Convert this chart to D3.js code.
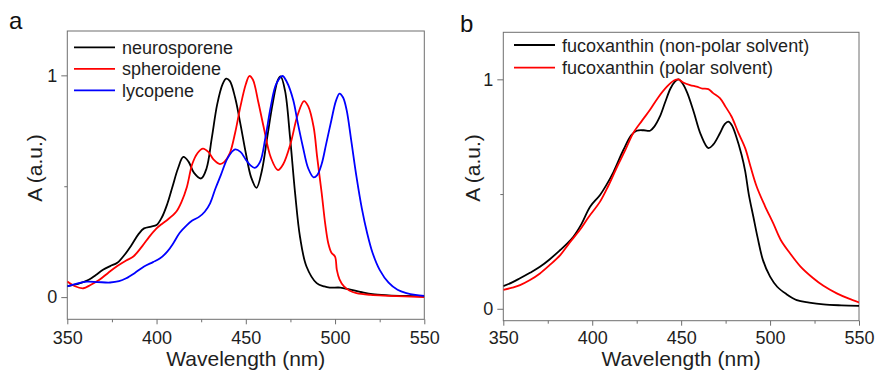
<!DOCTYPE html>
<html>
<head>
<meta charset="utf-8">
<script src="https://cdn.jsdelivr.net/npm/d3@7"></script>
<style>
  html, body { margin: 0; padding: 0; background: #fff; }
  svg { display: block; font-family: "Liberation Sans", Arial, sans-serif; }
</style>
</head>
<body>
<svg id="chart" width="876" height="371"></svg>
<script>
// ---------- Panel a data ----------
const neuroX = [350,356,362,366,370,374,378,382,386,390,393,397,400,403,406,409,412,415,418,421,425,428,431,434,437,439,441,444,447,450,453,456,459,462,465,468,469.5,472,474.8,477.6,480.4,484,489.7,494,497,503,508,515,521,530,540,550];
const neuroY = [0.05,0.06,0.078,0.1,0.123,0.14,0.155,0.19,0.235,0.285,0.31,0.318,0.325,0.36,0.42,0.50,0.58,0.632,0.61,0.56,0.535,0.58,0.72,0.87,0.96,0.985,0.975,0.9,0.78,0.65,0.54,0.493,0.57,0.72,0.87,0.98,0.995,0.93,0.72,0.47,0.27,0.138,0.063,0.048,0.043,0.043,0.035,0.022,0.013,0.008,0.005,0.003];

const spheroX = [350,354,359,363,368,373,378,383,387,392,396,400,403,406,411,414,417,420,423,426,429,432,435.5,438,441,444,447,450,452,454,457,460,464,468,471,475,479,482.6,485,488,490,492.5,494.5,496.2,498,500,501,502.5,505,508,512,520,530,550];
const spheroY = [0.07,0.05,0.04,0.055,0.078,0.11,0.14,0.165,0.183,0.23,0.273,0.31,0.33,0.348,0.385,0.43,0.497,0.6,0.65,0.67,0.655,0.62,0.6,0.61,0.648,0.74,0.86,0.96,0.997,0.98,0.88,0.767,0.63,0.573,0.6,0.69,0.82,0.884,0.86,0.767,0.63,0.47,0.33,0.243,0.2,0.183,0.123,0.08,0.048,0.03,0.018,0.01,0.006,0.0];

const lycoX = [350,355,361,367,374,379,383,388,393,398,402,406,409.4,413,417,420,424,427,430,433,436,440,444,447,450,452.5,455,458,461,464,467,470.5,473,476.6,479,482,485,488,490,492.5,495,498,500.5,502.5,504.5,506.5,509,512,515,518,521,525,530,535,540,545,550];
const lycoY = [0.048,0.06,0.07,0.068,0.066,0.072,0.085,0.11,0.138,0.158,0.175,0.205,0.243,0.29,0.325,0.345,0.363,0.385,0.423,0.49,0.55,0.63,0.666,0.655,0.62,0.595,0.583,0.61,0.72,0.86,0.96,0.997,0.97,0.888,0.79,0.677,0.58,0.54,0.55,0.6,0.69,0.8,0.885,0.918,0.9,0.843,0.71,0.543,0.4,0.288,0.2,0.123,0.065,0.033,0.018,0.01,0.006];

// ---------- Panel b data ----------
const fucoNonPolarX = [350,355,359.4,365,370.6,376,382,386,389.4,394,398.8,404.4,408,412,417.5,422,425,429,432.5,435,438,441,444,446.5,448.5,451,453.5,457,461,465.3,468,471.8,474.5,476.5,478.5,481,484,486,488,490.6,493,496,500,504,509,515,522,530,540,550];
const fucoNonPolarY = [0.099,0.115,0.133,0.157,0.183,0.215,0.256,0.285,0.314,0.37,0.445,0.496,0.54,0.597,0.692,0.757,0.776,0.778,0.776,0.795,0.837,0.9,0.96,0.99,1.0,0.98,0.94,0.86,0.76,0.7,0.715,0.765,0.805,0.816,0.8,0.75,0.67,0.6,0.5,0.401,0.31,0.212,0.14,0.096,0.065,0.038,0.027,0.019,0.015,0.013];

const fucoPolarX = [350,355,359.4,365,370.6,376,382,387,393,398,404.4,409,414,418.5,423,428,432.5,437,442,446,448.4,451.2,455,458.7,462,465.3,468,471.8,475,478.4,482,486,489,492.5,497,501.8,506,511.2,517,524.3,530,537.5,544,550];
const fucoPolarY = [0.082,0.092,0.103,0.125,0.154,0.19,0.234,0.285,0.343,0.4,0.467,0.535,0.619,0.69,0.765,0.82,0.867,0.92,0.968,0.995,1.0,0.986,0.975,0.968,0.96,0.957,0.94,0.918,0.88,0.837,0.77,0.7,0.62,0.532,0.45,0.372,0.3,0.242,0.185,0.133,0.1,0.067,0.045,0.028];

// ---------- Ticks / labels ----------
const xMajorTicks = [350,400,450,500,550];
const xMinorTicks = [375,425,475,525];
const yMajorTicks = [0,1];
const yMinorTicks = [0.5];
const xTitle = "Wavelength (nm)";
const yTitle = "A (a.u.)";
const legendA = ["neurosporene","spheroidene","lycopene"];
const legendB = ["fucoxanthin (non-polar solvent)","fucoxanthin (polar solvent)"];

const svg = d3.select("#chart");
const frameColor = "#6e6e6e";
const textColor = "#1e1e1e";

function panel(cfg) {
  const x = d3.scaleLinear().domain([350,550]).range([cfg.left, cfg.right]);
  const y = d3.scaleLinear().domain(cfg.yDomain).range([cfg.bottom, cfg.top]);
  const g = svg.append("g");

  const xa = g.append("g").attr("transform", `translate(0,${cfg.bottom})`)
    .call(d3.axisBottom(x).tickValues(xMajorTicks).tickSize(5).tickSizeOuter(0).tickPadding(cfg.xPad).tickFormat(d3.format("d")));
  const xm = g.append("g").attr("transform", `translate(0,${cfg.bottom})`)
    .call(d3.axisBottom(x).tickValues(xMinorTicks).tickSize(3).tickSizeOuter(0).tickFormat(""));
  const ya = g.append("g").attr("transform", `translate(${cfg.left},0)`)
    .call(d3.axisLeft(y).tickValues(yMajorTicks).tickSize(6).tickSizeOuter(0).tickPadding(4).tickFormat(d3.format("d")));
  const ym = g.append("g").attr("transform", `translate(${cfg.left},0)`)
    .call(d3.axisLeft(y).tickValues(yMinorTicks).tickSize(3).tickSizeOuter(0).tickFormat(""));
  [xa, xm, ya, ym].forEach(a => {
    a.select(".domain").remove();
    a.selectAll("line").attr("stroke", frameColor).attr("stroke-width", 1);
    a.selectAll("text").attr("fill", textColor).style("font-size", "18px")
      .style("font-family", "'Liberation Sans', Arial, sans-serif");
  });

  g.append("rect").attr("x", cfg.left).attr("y", cfg.top)
    .attr("width", cfg.right - cfg.left).attr("height", cfg.bottom - cfg.top)
    .attr("fill", "none").attr("stroke", frameColor).attr("stroke-width", 1);

  const cid = "clip" + cfg.id;
  svg.append("clipPath").attr("id", cid).append("rect")
    .attr("x", cfg.left).attr("y", cfg.top)
    .attr("width", cfg.right - cfg.left).attr("height", cfg.bottom - cfg.top);

  const line = d3.line().x(d => x(d[0])).y(d => y(d[1])).curve(d3.curveCatmullRom.alpha(0.5));
  const lg = g.append("g").attr("clip-path", `url(#${cid})`);
  cfg.series.forEach(s => {
    lg.append("path").datum(d3.zip(s.xs, s.ys))
      .attr("d", line).attr("fill", "none").attr("stroke", s.color)
      .attr("stroke-width", 1.8).attr("stroke-linejoin", "round");
  });

  cfg.series.forEach((s, i) => {
    const ly = cfg.legY + i * cfg.legDy;
    g.append("line").attr("x1", cfg.legX).attr("x2", cfg.legX + 41)
      .attr("y1", ly).attr("y2", ly).attr("stroke", s.color).attr("stroke-width", 1.8);
    g.append("text").attr("x", cfg.legX + 48).attr("y", ly + 6.5)
      .attr("fill", textColor).style("font-size", "18px").text(s.name);
  });

  g.append("text").attr("x", (cfg.left + cfg.right) / 2).attr("y", 366)
    .attr("text-anchor", "middle").attr("fill", textColor).style("font-size", "21px").text(xTitle);
  g.append("text").attr("transform", `translate(${cfg.yTitleX},168) rotate(-90)`)
    .attr("text-anchor", "middle").attr("dy", "0.36em")
    .attr("fill", textColor).style("font-size", "21px").text(yTitle);

  g.append("text").attr("x", cfg.labX).attr("y", cfg.labY)
    .attr("fill", "#111").style("font-size", "24px").text(cfg.label);
}

panel({
  id: "a", left: 67.3, right: 424.3, top: 31, bottom: 319.3, yDomain: [-0.1, 1.2], xPad: 7,
  legX: 74, legY: 47.3, legDy: 21.5, yTitleX: 34, label: "a", labX: 9, labY: 29,
  series: [
    { name: legendA[0], xs: neuroX, ys: neuroY, color: "#000000" },
    { name: legendA[1], xs: spheroX, ys: spheroY, color: "#ff0000" },
    { name: legendA[2], xs: lycoX, ys: lycoY, color: "#0000ff" }
  ]
});

panel({
  id: "b", left: 503.3, right: 859, top: 32.3, bottom: 320.7, yDomain: [-0.052, 1.205], xPad: 5.6,
  legX: 514, legY: 45, legDy: 22.7, yTitleX: 472, label: "b", labX: 460, labY: 32,
  series: [
    { name: legendB[0], xs: fucoNonPolarX, ys: fucoNonPolarY, color: "#000000" },
    { name: legendB[1], xs: fucoPolarX, ys: fucoPolarY, color: "#ff0000" }
  ]
});
</script>
</body>
</html>
